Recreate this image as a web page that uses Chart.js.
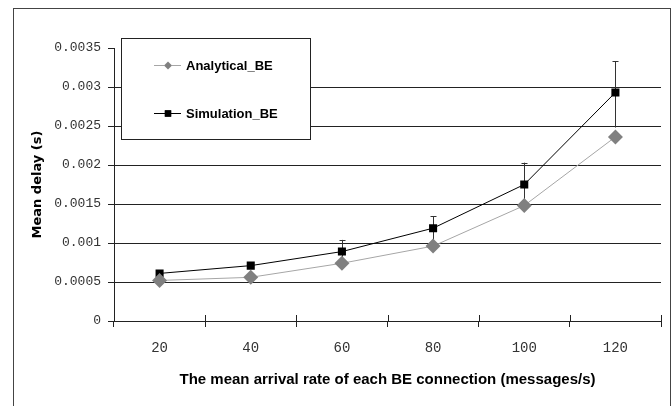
<!DOCTYPE html>
<html>
<head>
<meta charset="utf-8">
<script src="https://cdn.jsdelivr.net/npm/chart.js@4/dist/chart.umd.min.js"></script>
<style>
  html, body { margin: 0; padding: 0; background: #fff; }
  #wrap { width: 671px; height: 406px; }
</style>
</head>
<body>
<div id="wrap"><canvas id="delayChart" width="671" height="406"></canvas></div>
<script>
// ── data ──
const RATES = ["20", "40", "60", "80", "100", "120"];
const ANALYTICAL_BE = [0.00052, 0.00056, 0.00074, 0.00096, 0.00148, 0.00236];
const SIMULATION_BE = [0.00061, 0.00071, 0.00089, 0.00119, 0.00175, 0.00293];
const SIM_ERR_PLUS = [0, 0, 0.00015, 0.00015, 0.00028, 0.00040];
const SIM_ERR_MINUS = [0, 0, 0.00015, 0.00015, 0.00028, 0.00045];
const Y_TICKS = [0, 0.0005, 0.001, 0.0015, 0.002, 0.0025, 0.003, 0.0035];

const MONO = "'Liberation Mono', 'DejaVu Sans Mono', monospace";
const SANS = "'Liberation Sans', Arial, sans-serif";
const WIDE = "'DejaVu Sans', Verdana, sans-serif";

// error bars on the simulation series (drawn under the markers)
const errorBars = {
  id: "errorBars",
  beforeDatasetsDraw(chart) {
    const { ctx, scales: { x, y } } = chart;
    ctx.save();
    ctx.strokeStyle = "#333";
    ctx.lineWidth = 1;
    SIMULATION_BE.forEach((v, i) => {
      if (!SIM_ERR_PLUS[i] && !SIM_ERR_MINUS[i]) return;
      const px = Math.round(x.getPixelForTick(i)) + 0.5;
      const top = y.getPixelForValue(v + SIM_ERR_PLUS[i]);
      const bot = y.getPixelForValue(v - SIM_ERR_MINUS[i]);
      ctx.beginPath();
      ctx.moveTo(px, top); ctx.lineTo(px, bot);
      ctx.moveTo(px - 3, Math.round(top) + 0.5); ctx.lineTo(px + 3, Math.round(top) + 0.5);
      ctx.stroke();
    });
    ctx.restore();
  }
};

// frame, crossing x ticks and the boxed legend
const decorations = {
  id: "decorations",
  afterDraw(chart) {
    const { ctx, chartArea: a, scales: { x } } = chart;
    ctx.save();
    // outer frame
    ctx.strokeStyle = "#444";
    ctx.lineWidth = 1;
    ctx.strokeRect(13.5, 8.5, 657, 400);

    // upper half of the x tick marks
    ctx.strokeStyle = "#222";
    const n = RATES.length;
    const edges = [a.left];
    for (let i = 0; i < n - 1; i++) edges.push((x.getPixelForTick(i) + x.getPixelForTick(i + 1)) / 2);
    edges.push(a.right);
    ctx.beginPath();
    edges.forEach(px => {
      const xx = Math.round(px) + 0.5;
      ctx.moveTo(xx, a.bottom - 6); ctx.lineTo(xx, a.bottom);
    });
    ctx.stroke();

    // legend box
    ctx.fillStyle = "#fff";
    ctx.fillRect(121, 38, 189, 101);
    ctx.strokeStyle = "#222";
    ctx.strokeRect(121.5, 38.5, 189, 101);

    const items = chart.data.datasets.map((d, i) => ({ ds: d, y: i === 0 ? 65 : 113 }));
    items.forEach(({ ds, y }) => {
      ctx.strokeStyle = ds.borderColor;
      ctx.lineWidth = 1;
      ctx.beginPath();
      ctx.moveTo(154, y + 0.5); ctx.lineTo(181, y + 0.5);
      ctx.stroke();
      Chart.helpers.drawPoint(ctx, {
        pointStyle: ds.pointStyle, radius: ds.pointStyle === "rectRot" ? 4 : 4.5,
        borderWidth: 0, rotation: 0
      }, 168, y + 0.5);
      ctx.fillStyle = ds.pointBackgroundColor;
      ctx.fill();
      ctx.fillStyle = "#000";
      ctx.font = "bold 13px " + SANS;
      ctx.textBaseline = "middle";
      ctx.textAlign = "left";
      ctx.fillText(ds.label, 186, y + 1);
    });
    ctx.restore();
  }
};

new Chart(document.getElementById("delayChart"), {
  type: "line",
  data: {
    labels: RATES,
    datasets: [
      {
        label: "Analytical_BE",
        data: ANALYTICAL_BE,
        borderColor: "#a6a6a6", borderWidth: 1,
        pointStyle: "rectRot", pointRadius: 7.5, pointHoverRadius: 7.5,
        pointBackgroundColor: "#808080", pointBorderColor: "#808080", pointBorderWidth: 0,
        tension: 0
      },
      {
        label: "Simulation_BE",
        data: SIMULATION_BE,
        borderColor: "#000", borderWidth: 1,
        pointStyle: "rect", pointRadius: 5.7, pointHoverRadius: 5.7,
        pointBackgroundColor: "#000", pointBorderColor: "#000", pointBorderWidth: 0,
        tension: 0
      }
    ]
  },
  options: {
    responsive: false,
    animation: false,
    events: [],
    layout: { padding: { top: 48, right: 10, left: 0, bottom: 0 } },
    plugins: { legend: { display: false }, tooltip: { enabled: false } },
    scales: {
      x: {
        offset: true,
        grid: { offset: true, drawOnChartArea: false, tickLength: 6, color: "#222" },
        border: { color: "#222" },
        ticks: { padding: 13, color: "#333", font: { family: MONO, size: 14 } },
        title: {
          display: true, text: "The mean arrival rate of each BE connection (messages/s)",
          color: "#000", font: { family: SANS, size: 15, weight: "bold" }, padding: { top: 0, bottom: 17 }
        },
        afterFit: s => { s.height = 85; }
      },
      y: {
        min: 0, max: 0.0035,
        afterBuildTicks: s => { s.ticks = Y_TICKS.map(v => ({ value: v })); },
        grid: {
          tickLength: 6, tickColor: "#222",
          color: c => (c.tick && c.tick.value > 0.0001 && c.tick.value < 0.0032) ? "#222" : "rgba(0,0,0,0)"
        },
        border: { color: "#222" },
        ticks: { padding: 7, color: "#333", font: { family: MONO, size: 13 }, callback: v => String(v) },
        title: {
          display: true, text: "Mean delay (s)",
          color: "#000", font: { family: WIDE, size: 13, weight: "bold" }, padding: { top: 30, bottom: 0 }
        },
        afterFit: s => { s.width = 114; }
      }
    }
  },
  plugins: [errorBars, decorations]
});
</script>
</body>
</html>
